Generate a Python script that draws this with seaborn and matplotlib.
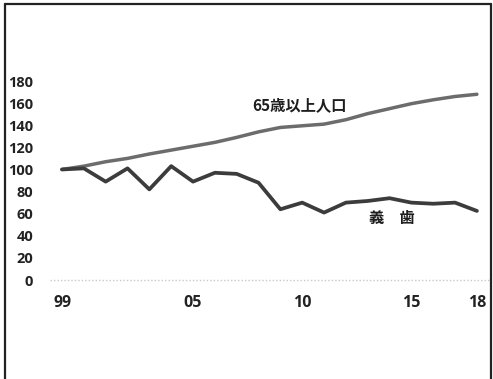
import matplotlib
matplotlib.use("Agg")
import matplotlib.pyplot as plt
import seaborn as sns
import pandas as pd
from matplotlib.lines import Line2D

years = list(range(1999, 2019))
elderly = [100, 103, 107, 110, 114, 117.5, 121, 124.5, 129, 134,
           138, 139.5, 141, 145, 150.5, 155, 159.5, 163, 166, 168]
dentures = [100, 101, 89, 101, 82, 103, 89, 97, 96, 88,
            64, 70, 61, 70, 71.5, 74, 70, 69, 70, 62.5]
yticks = list(range(0, 181, 20))
xticks = [1999, 2005, 2010, 2015, 2018]
xticklabels = ["99", "05", "10", "15", "18"]
label_elderly = "65歳以上人口"
label_dentures = "義　歯"

sns.set_theme(style="white")
plt.rcParams['font.family'] = ['Noto Sans CJK JP', 'DejaVu Sans']

df = pd.DataFrame({"year": years, "elderly": elderly, "dentures": dentures})

fig = plt.figure(figsize=(4.93, 3.79), dpi=100)
ax = fig.add_axes([50/493, (379-285)/379, 440/493, 225/379])

sns.lineplot(data=df, x="year", y="elderly", ax=ax, color="#6c6c6c", linewidth=2.5)
sns.lineplot(data=df, x="year", y="dentures", ax=ax, color="#3c3c3c", linewidth=2.7)

ax.axhline(0, color="#c8c8c8", linestyle=(0, (1, 1.5)), linewidth=1.0, zorder=0)

ax.set_xlim(1998.45, 2018.6)
ax.set_ylim(-4.5, 199)
ax.set_yticks(yticks)
ax.set_yticklabels([str(v) for v in yticks], fontsize=10.5, fontweight="bold",
                   family=["Open Sans", "DejaVu Sans"], color="#222222")
ax.set_xticks(xticks)
ax.set_xticklabels(xticklabels, fontsize=11.5, fontweight="bold",
                   family=["Open Sans", "DejaVu Sans"], color="#222222")
ax.tick_params(axis="y", length=0, pad=12)
ax.tick_params(axis="x", length=0, pad=7)
ax.set_xlabel("")
ax.set_ylabel("")
for s in ax.spines.values():
    s.set_visible(False)

ax.text(2007.7, 158, label_elderly, fontsize=11, fontweight="bold",
        color="#1e1e1e", ha="left", va="center")
ax.text(2013.05, 56, label_dentures, fontsize=11, fontweight="bold",
        color="#1e1e1e", ha="left", va="center")

# outer frame (top, left, right)
fw, fh = 493, 379
kw = dict(color="#222222", linewidth=1.6, transform=fig.transFigure)
fig.add_artist(Line2D([5/fw, 5/fw], [0, 1 - 4/fh], **kw))
fig.add_artist(Line2D([5/fw, 491/fw], [1 - 4/fh, 1 - 4/fh], **kw))
fig.add_artist(Line2D([491/fw, 491/fw], [0, 1 - 4/fh], **kw))

fig.savefig("out.png", dpi=100)
